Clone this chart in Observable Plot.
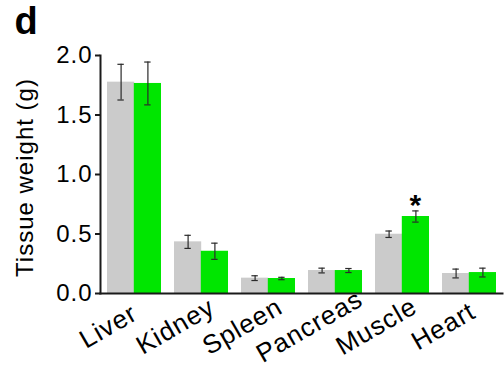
<!DOCTYPE html>
<html>
<head>
<meta charset="utf-8">
<script src="https://cdn.jsdelivr.net/npm/d3@7"></script>
<script src="https://cdn.jsdelivr.net/npm/@observablehq/plot@0.6"></script>
<style>
  html, body { margin: 0; padding: 0; background: #fff; }
  #chart { width: 504px; height: 367px; }
  #chart svg text { letter-spacing: 1px; }
</style>
</head>
<body>
<div id="chart"></div>
<script>
const organs = ["Liver", "Kidney", "Spleen", "Pancreas", "Muscle", "Heart"];
const controlMean = [1.776, 0.434, 0.129, 0.193, 0.498, 0.168];
const controlErr  = [0.15, 0.055, 0.02, 0.02, 0.027, 0.037];
const treatMean   = [1.765, 0.355, 0.126, 0.193, 0.647, 0.176];
const treatErr    = [0.18, 0.068, 0.01, 0.017, 0.047, 0.037];
const significant = ["Muscle"];
const yTicks = [0, 0.5, 1.0, 1.5, 2.0];
const panelLabel = "d";
const yLabel = "Tissue weight (g)";

const control = organs.map((o, i) => ({organ: o, mean: controlMean[i], err: controlErr[i]}));
const treat = organs.map((o, i) => ({organ: o, mean: treatMean[i], err: treatErr[i]}));
const stars = treat.filter(d => significant.includes(d.organ));

const W = 504, H = 367;
const mL = 100, mR = 2, mT = 55, mB = 74;
const padIn = 0.2, padOut = 0.1;
const step = (W - mL - mR) / (organs.length - padIn + 2 * padOut);
const band = step * (1 - padIn);
const half = band / 2;
const capHalf = 3;
const font = "Liberation Sans, Arial, Helvetica, sans-serif";
const axisColor = "#1a1a1a";
const errColor = "#2a2a2a";
const fs = 24;

const chart = Plot.plot({
  width: W,
  height: H,
  marginLeft: mL,
  marginRight: mR,
  marginTop: mT,
  marginBottom: mB,
  style: {fontFamily: font, fontSize: fs + "px", color: "#000", background: "#fff", overflow: "visible"},
  x: {domain: organs, paddingInner: padIn, paddingOuter: padOut, align: 0.5, axis: null},
  y: {domain: [0, 2], axis: null},
  marks: [
    Plot.barY(control, {x: "organ", y: "mean", fill: "#cbcbcb", insetRight: half}),
    Plot.barY(treat, {x: "organ", y: "mean", fill: "#00e600", insetLeft: half}),
    // control error bars
    Plot.ruleX(control, {x: "organ", y1: d => d.mean - d.err, y2: d => d.mean + d.err, dx: -half / 2, stroke: errColor, strokeWidth: 1.2}),
    Plot.tickY(control, {x: "organ", y: d => d.mean + d.err, insetLeft: half / 2 - capHalf, insetRight: band - half / 2 - capHalf, stroke: errColor, strokeWidth: 1.2}),
    Plot.tickY(control, {x: "organ", y: d => d.mean - d.err, insetLeft: half / 2 - capHalf, insetRight: band - half / 2 - capHalf, stroke: errColor, strokeWidth: 1.2}),
    // treatment error bars
    Plot.ruleX(treat, {x: "organ", y1: d => d.mean - d.err, y2: d => d.mean + d.err, dx: half / 2, stroke: errColor, strokeWidth: 1.2}),
    Plot.tickY(treat, {x: "organ", y: d => d.mean + d.err, insetLeft: band - half / 2 - capHalf, insetRight: half / 2 - capHalf, stroke: errColor, strokeWidth: 1.2}),
    Plot.tickY(treat, {x: "organ", y: d => d.mean - d.err, insetLeft: band - half / 2 - capHalf, insetRight: half / 2 - capHalf, stroke: errColor, strokeWidth: 1.2}),
    // significance star
    Plot.text(stars, {x: "organ", y: d => d.mean + d.err, dx: half / 2, dy: 4, text: () => "*", lineAnchor: "bottom", fontSize: 30, fontWeight: "bold", fill: "#000"}),
    // axes
    Plot.axisY({ticks: yTicks, tickFormat: d3.format(".1f"), tickSize: 5, tickPadding: 3, stroke: axisColor, strokeWidth: 2, fontSize: fs, fill: "#000", label: null}),
    Plot.text(organs, {x: d => d, frameAnchor: "bottom", text: d => d, rotate: -30, textAnchor: "middle", lineAnchor: "middle", dx: -26, dy: 33, fontSize: 26, fill: "#000"}),
    Plot.frame({anchor: "left", stroke: axisColor, strokeWidth: 2}),
    Plot.frame({anchor: "bottom", stroke: axisColor, strokeWidth: 2}),
    // y label
    Plot.text([yLabel], {frameAnchor: "left", text: d => d, rotate: -90, textAnchor: "middle", dx: -75, dy: 3, fontSize: fs, fill: "#000"}),
    // panel label
    Plot.text([panelLabel], {frameAnchor: "top-left", text: d => d, dx: -86, dy: -48, fontSize: 38, fontWeight: "bold", fill: "#000", textAnchor: "start"})
  ]
});
document.getElementById("chart").appendChild(chart);
</script>
</body>
</html>
